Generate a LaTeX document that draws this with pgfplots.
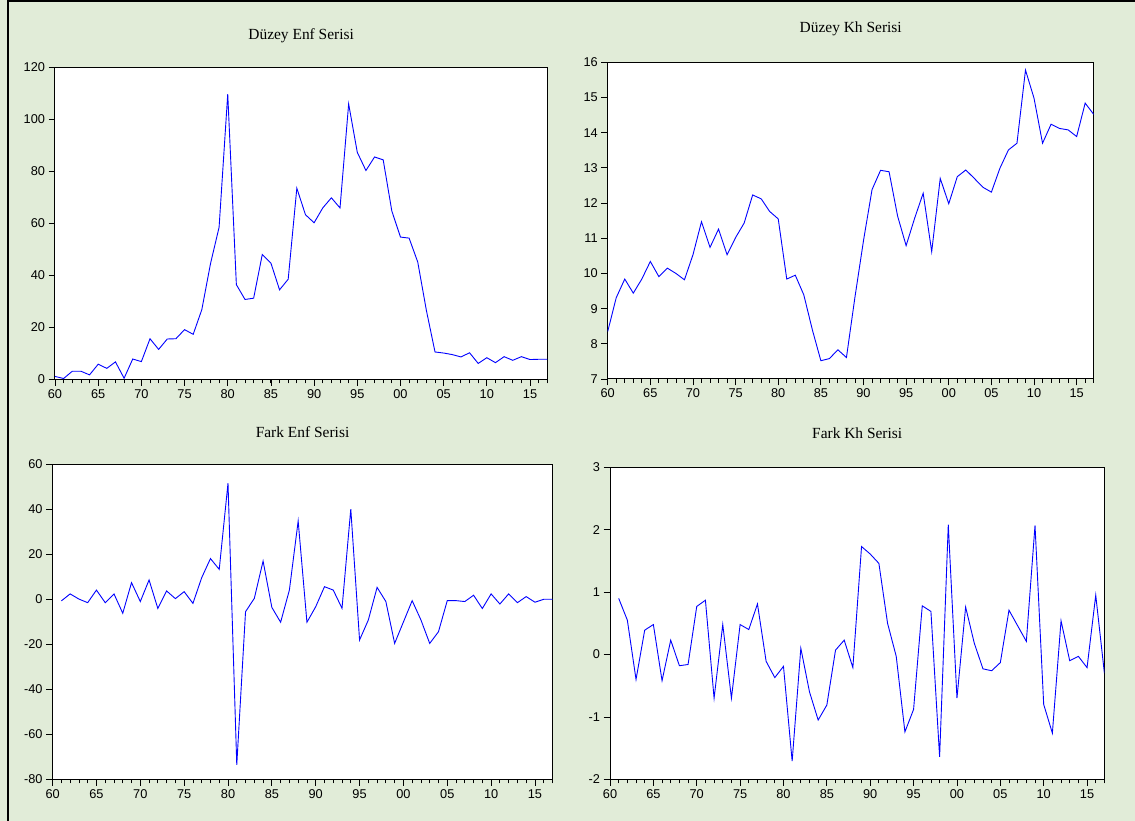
\documentclass[border=0pt]{standalone}
\usepackage{fontspec}
\setmainfont{Liberation Sans}
\newfontfamily\titlefont{Liberation Serif}
\usepackage{pgfplots}
\pgfplotsset{compat=1.18}
\definecolor{bggreen}{RGB}{225,236,216}
\pgfplotsset{eviews/.style={
  scale only axis,
  anchor=south west,
  xmin=1960, xmax=2017,
  xtick={1960,1965,...,2015},
  xticklabels={60,65,70,75,80,85,90,95,00,05,10,15},
  minor xtick={1960,...,2017},
  xtick pos=bottom, ytick pos=left,
  tick align=outside,
  major tick length=6.5bp,
  minor tick length=4bp,
  tick style={black, line width=0.8bp},
  axis line style={black, line width=1bp},
  axis background/.style={fill=white},
  tick label style={font=\fontsize{12.8}{14}\selectfont},
  /pgf/number format/assume math mode=true,
  title style={font=\titlefont\fontsize{15.5}{18}\selectfont, at={(0.5,1)}, anchor=center},
  no markers,
}}
\begin{document}
\begin{tikzpicture}
\fill[bggreen] (0bp,0bp) rectangle (1135bp,821bp);
\useasboundingbox (0bp,0bp) rectangle (1135bp,821bp);
\draw[line width=2bp] (8bp,0bp) -- (8bp,819.5bp) -- (1135bp,819.5bp);

% Panel 1: Duzey Enf
\begin{axis}[eviews, at={(55bp,441.7bp)}, width=492.3bp, height=312bp,
  ymin=0, ymax=120, ytick={0,20,...,120}, yticklabels={0,20,40,60,80,100,120},
  title={Düzey Enf Serisi}, title style={yshift=25.5bp}]
\addplot[blue, line width=0.9bp] coordinates {
(1960,1.1)(1961,0.3)(1962,3.1)(1963,3.1)(1964,1.7)(1965,5.8)(1966,4.2)(1967,6.7)(1968,0.4)(1969,7.8)
(1970,6.8)(1971,15.6)(1972,11.5)(1973,15.5)(1974,15.6)(1975,19.1)(1976,17.3)(1977,26.8)(1978,44.4)(1979,58.5)
(1980,109.7)(1981,36.4)(1982,30.7)(1983,31.2)(1984,48.0)(1985,44.7)(1986,34.4)(1987,38.5)(1988,73.5)(1989,63.3)
(1990,60.2)(1991,65.9)(1992,69.8)(1993,65.9)(1994,105.9)(1995,87.3)(1996,80.3)(1997,85.5)(1998,84.4)(1999,64.7)
(2000,54.7)(2001,54.3)(2002,45.1)(2003,26.5)(2004,10.5)(2005,10.1)(2006,9.5)(2007,8.6)(2008,10.2)(2009,6.1)
(2010,8.3)(2011,6.4)(2012,8.7)(2013,7.3)(2014,8.7)(2015,7.6)(2016,7.7)(2017,7.7)};
\end{axis}

% Panel 2: Duzey Kh
\begin{axis}[eviews, at={(607.7bp,442bp)}, width=486bp, height=316.7bp,
  ymin=7, ymax=16, ytick={7,...,16}, yticklabels={7,8,9,10,11,12,13,14,15,16},
  title={Düzey Kh Serisi}, title style={yshift=27.5bp}]
\addplot[blue, line width=0.9bp] coordinates {
(1960,8.35)(1961,9.31)(1962,9.84)(1963,9.44)(1964,9.84)(1965,10.34)(1966,9.91)(1967,10.15)(1968,10.0)(1969,9.82)
(1970,10.53)(1971,11.47)(1972,10.74)(1973,11.26)(1974,10.53)(1975,11.02)(1976,11.43)(1977,12.23)(1978,12.12)(1979,11.76)
(1980,11.55)(1981,9.84)(1982,9.95)(1983,9.39)(1984,8.40)(1985,7.52)(1986,7.58)(1987,7.83)(1988,7.61)(1989,9.33)
(1990,10.93)(1991,12.38)(1992,12.93)(1993,12.89)(1994,11.63)(1995,10.79)(1996,11.57)(1997,12.28)(1998,10.62)(1999,12.70)
(2000,11.98)(2001,12.75)(2002,12.94)(2003,12.70)(2004,12.45)(2005,12.31)(2006,12.99)(2007,13.51)(2008,13.70)(2009,15.78)
(2010,14.98)(2011,13.70)(2012,14.24)(2013,14.12)(2014,14.08)(2015,13.89)(2016,14.84)(2017,14.52)};
\end{axis}

% Panel 3: Fark Enf
\begin{axis}[eviews, at={(52.6bp,41.7bp)}, width=499.9bp, height=315bp,
  ymin=-80, ymax=60, ytick={-80,-60,...,60}, yticklabels={-80,-60,-40,-20,0,20,40,60},
  title={Fark Enf Serisi}, title style={yshift=26.5bp}]
\addplot[blue, line width=0.9bp] coordinates {
(1961,-0.7)(1962,2.4)(1963,0.1)(1964,-1.5)(1965,4.1)(1966,-1.5)(1967,2.4)(1968,-6.2)(1969,7.4)
(1970,-1.0)(1971,8.6)(1972,-4.1)(1973,3.7)(1974,0.3)(1975,3.4)(1976,-1.8)(1977,9.6)(1978,18.1)(1979,13.3)
(1980,51.6)(1981,-73.6)(1982,-5.5)(1983,0.4)(1984,17.0)(1985,-3.6)(1986,-10.2)(1987,4.1)(1988,34.8)(1989,-10.2)
(1990,-3.3)(1991,5.6)(1992,4.1)(1993,-4.0)(1994,40.1)(1995,-18.1)(1996,-9.2)(1997,5.3)(1998,-1.0)(1999,-19.6)
(2000,-10.1)(2001,-0.6)(2002,-9.2)(2003,-19.6)(2004,-14.4)(2005,-0.6)(2006,-0.6)(2007,-1.0)(2008,1.8)(2009,-4.1)
(2010,2.4)(2011,-2.1)(2012,2.4)(2013,-1.5)(2014,1.2)(2015,-1.3)(2016,0.0)(2017,0.0)};
\end{axis}

% Panel 4: Fark Kh
\begin{axis}[eviews, at={(610bp,41.7bp)}, width=494.4bp, height=312bp,
  ymin=-2, ymax=3, ytick={-2,...,3}, yticklabels={-2,-1,0,1,2,3},
  title={Fark Kh Serisi}, title style={yshift=28bp}]
\addplot[blue, line width=0.9bp] coordinates {
(1961,0.90)(1962,0.55)(1963,-0.40)(1964,0.39)(1965,0.48)(1966,-0.42)(1967,0.23)(1968,-0.18)(1969,-0.16)
(1970,0.77)(1971,0.87)(1972,-0.70)(1973,0.48)(1974,-0.70)(1975,0.48)(1976,0.40)(1977,0.81)(1978,-0.11)(1979,-0.37)
(1980,-0.19)(1981,-1.71)(1982,0.10)(1983,-0.60)(1984,-1.05)(1985,-0.81)(1986,0.07)(1987,0.23)(1988,-0.21)(1989,1.73)
(1990,1.61)(1991,1.46)(1992,0.50)(1993,-0.03)(1994,-1.24)(1995,-0.88)(1996,0.78)(1997,0.69)(1998,-1.64)(1999,2.08)
(2000,-0.70)(2001,0.76)(2002,0.18)(2003,-0.23)(2004,-0.26)(2005,-0.13)(2006,0.71)(2007,0.46)(2008,0.21)(2009,2.07)
(2010,-0.80)(2011,-1.26)(2012,0.54)(2013,-0.10)(2014,-0.03)(2015,-0.21)(2016,0.95)(2017,-0.30)};
\end{axis}
\end{tikzpicture}
\end{document}
